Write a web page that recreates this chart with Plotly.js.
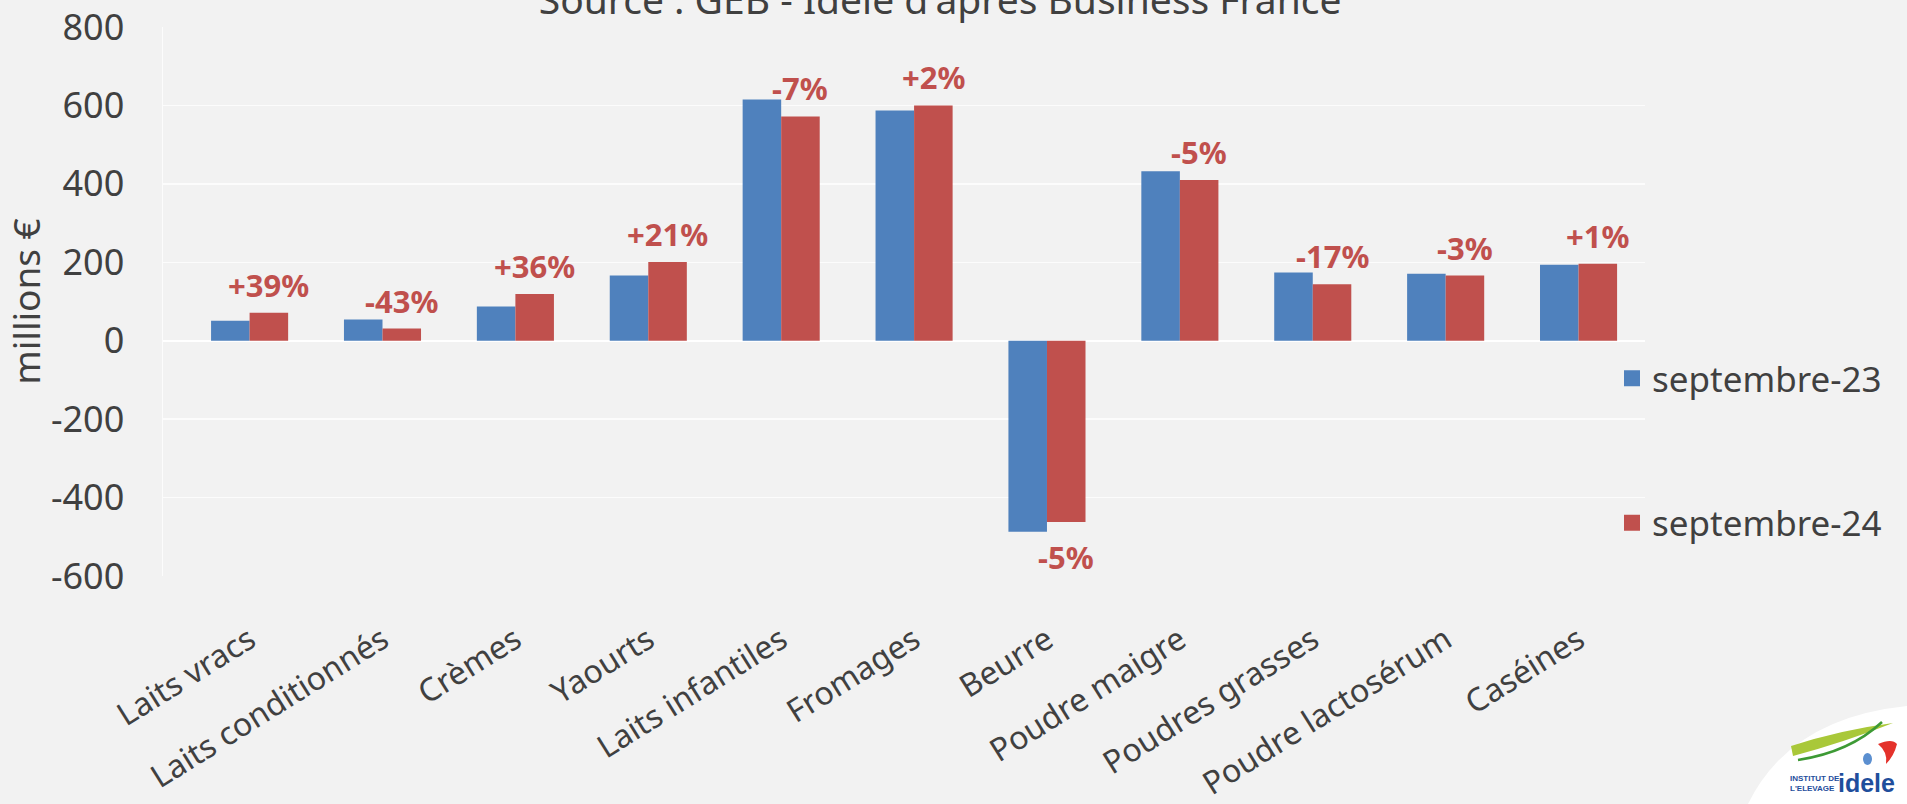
<!DOCTYPE html>
<html>
<head>
<meta charset="utf-8">
<script src="https://cdn.plot.ly/plotly-3.0.1.min.js"></script>
<style>
  html, body { margin: 0; padding: 0; background: #F2F2F2; }
  #chart { width: 1907px; height: 804px; }
</style>
</head>
<body>
<div id="chart"></div>
<script>
// ---- Data ----
const categories = ["Laits vracs", "Laits conditionnés", "Crèmes", "Yaourts", "Laits infantiles",
  "Fromages", "Beurre", "Poudre maigre", "Poudres grasses", "Poudre lactosérum", "Caséines"];
const sept23 = [51, 54, 87, 166, 615, 587, -487, 432, 174, 171, 194];
const sept24 = [71, 31, 119, 201, 572, 600, -462, 410, 144, 166, 196];
const changeLabels = ["+39%", "-43%", "+36%", "+21%", "-7%", "+2%", "-5%", "-5%", "-17%", "-3%", "+1%"];
const seriesNames = ["septembre-23", "septembre-24"];
const yTicks = [-600, -400, -200, 0, 200, 400, 600, 800];
const yTickText = ["-600", "-400", "-200", "0", "200", "400", "600", "800"];

// ---- Style ----
const BLUE = "#4F81BD", RED = "#C0504D", TXT = "#404040";
const FONT = "Noto Sans, DejaVu Sans, sans-serif";
const W = 1907, H = 804;
const M = { l: 163, r: 262, t: 27, b: 228, autoexpand: false };
const BARGAP = 0.42;

// pixel -> paper helpers for the decorative logo only
const pw = W - M.l - M.r, ph = H - M.t - M.b;
const px = x => (x - M.l) / pw;
const py = y => (H - M.b - y) / ph;

const traces = [
  { type: "bar", x: categories, y: sept23, name: seriesNames[0], marker: { color: BLUE }, showlegend: false, hoverinfo: "x+y" },
  { type: "bar", x: categories, y: sept24, name: seriesNames[1], marker: { color: RED }, showlegend: false, hoverinfo: "x+y" },
  // legend entries (bigger squares like the reference)
  { type: "scatter", mode: "markers", x: [categories[0]], y: [null], name: seriesNames[0], legendgroup: "a",
    marker: { symbol: "square", size: 20, color: BLUE } },
  { type: "scatter", mode: "markers", x: [categories[0]], y: [null], name: seriesNames[1], legendgroup: "b",
    marker: { symbol: "square", size: 20, color: RED } }
];

// percentage labels above/below the red bars
const barW = (1 - BARGAP) / 2;
const annotations = changeLabels.map((t, i) => ({
  xref: "x", yref: "y", x: i + barW / 2, y: sept24[i], text: t, showarrow: false,
  font: { family: FONT, size: 31, color: RED, weight: 700 },
  yanchor: sept24[i] >= 0 ? "bottom" : "top",
  yshift: sept24[i] >= 0 ? 5 : -12
}));

// logo texts
annotations.push(
  { xref: "paper", yref: "paper", x: px(1788), y: py(783), xanchor: "left", yanchor: "middle", showarrow: false,
    text: "INSTITUT DE<br>L'ELEVAGE", align: "left",
    font: { family: "Liberation Sans Narrow, Liberation Sans, sans-serif", size: 8, color: "#1F4E9C", weight: 700 } },
  { xref: "paper", yref: "paper", x: px(1836), y: py(783), xanchor: "left", yanchor: "middle", showarrow: false,
    text: "idele", font: { family: "Liberation Sans, sans-serif", size: 25, color: "#1F4E9C", weight: 700 } }
);

const shapes = [
  { type: "path", xref: "paper", yref: "paper", layer: "below", line: { width: 0 }, fillcolor: "#FFFFFF",
    path: `M ${px(1748)},${py(804)} Q ${px(1790)},${py(718)} ${px(1907)},${py(706)} L ${px(1907)},${py(804)} Z` },
  { type: "path", xref: "paper", yref: "paper", line: { width: 0 }, fillcolor: "#A9C839",
    path: `M ${px(1791)},${py(746)} Q ${px(1840)},${py(730)} ${px(1893)},${py(723)} Q ${px(1845)},${py(742)} ${px(1793)},${py(756)} Z` },
  { type: "path", xref: "paper", yref: "paper", line: { color: "#3D9A35", width: 2.5 }, fillcolor: "rgba(0,0,0,0)",
    path: `M ${px(1798)},${py(760)} Q ${px(1850)},${py(752)} ${px(1882)},${py(722)}` },
  { type: "path", xref: "paper", yref: "paper", line: { width: 0 }, fillcolor: "#E4322B",
    path: `M ${px(1878)},${py(744)} Q ${px(1892)},${py(738)} ${px(1897)},${py(744)} Q ${px(1894)},${py(756)} ${px(1886)},${py(764)} Q ${px(1888)},${py(752)} ${px(1878)},${py(744)} Z` },
  { type: "circle", xref: "paper", yref: "paper", line: { width: 0 }, fillcolor: "#5B8FD0",
    x0: px(1863), x1: px(1872), y0: py(765), y1: py(753) }
];

const layout = {
  width: W, height: H,
  paper_bgcolor: "#F2F2F2", plot_bgcolor: "#F2F2F2",
  margin: M,
  font: { family: FONT, color: TXT },
  title: {
    text: "Source : GEB - Idele d'après Business France",
    font: { family: FONT, size: 39, color: TXT },
    xref: "container", yref: "container", x: 0.493, xanchor: "center", y: 1, yanchor: "middle"
  },
  barmode: "group", bargap: BARGAP, bargroupgap: 0,
  xaxis: {
    type: "category", tickangle: -32, tickfont: { family: FONT, size: 32, color: TXT },
    showgrid: false, ticks: "", ticklabelstandoff: 38, showline: false, zeroline: false, automargin: false
  },
  yaxis: {
    range: [-600, 800], tickvals: yTicks, ticktext: yTickText, ticks: "", ticklabelstandoff: 30,
    tickfont: { family: FONT, size: 36, color: TXT },
    showgrid: true, gridcolor: "#FCFCFC", gridwidth: 1.5,
    zeroline: true, zerolinecolor: "#FFFFFF", zerolinewidth: 2,
    showline: true, linecolor: "#FCFCFC", linewidth: 1.5, automargin: false,
    title: { text: "millions €", font: { family: FONT, size: 37, color: TXT }, standoff: 12 }
  },
  legend: {
    xref: "container", yref: "container", x: 1612 / W, xanchor: "left", y: 1 - 349 / H, yanchor: "top",
    font: { family: FONT, size: 35, color: TXT }, bgcolor: "rgba(0,0,0,0)",
    traceorder: "grouped", tracegroupgap: 96, itemwidth: 30
  },
  annotations: annotations,
  shapes: shapes,
  showlegend: true
};

Plotly.newPlot("chart", traces, layout, { displayModeBar: false, staticPlot: true });
</script>
</body>
</html>
